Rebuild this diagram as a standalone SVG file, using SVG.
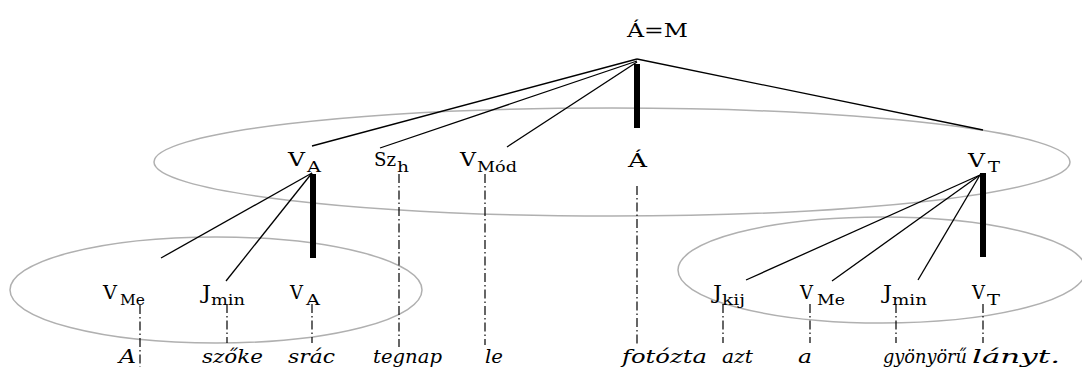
<svg xmlns="http://www.w3.org/2000/svg" width="1082" height="372" viewBox="0 0 1082 372">
<style>
text{font-family:"DejaVu Serif","Liberation Serif",serif;fill:#000}
.m{font-size:19px}
.s{font-size:15px}
.w{font-size:19px;font-style:italic}
.ell{fill:none;stroke:#b0b0b0;stroke-width:1.5}
.ln{stroke:#000;stroke-width:1.3;fill:none}
.bar{stroke:#000;stroke-width:6;fill:none}
.dd{stroke:#000;stroke-width:1.2;stroke-dasharray:9,3,1.5,3;fill:none}
</style>
<rect width="1082" height="372" fill="#fff"/>
<g id="groups">
<ellipse class="ell" cx="612" cy="162" rx="458" ry="54"/>
<ellipse class="ell" cx="216" cy="290" rx="206" ry="53"/>
<ellipse class="ell" cx="882" cy="270" rx="204" ry="53"/>
</g>
<g id="connectors">
<line class="ln" x1="637" y1="59" x2="312" y2="146"/>
<line class="ln" x1="637" y1="61" x2="380" y2="148"/>
<line class="ln" x1="637" y1="62" x2="507" y2="147"/>
<line class="ln" x1="637" y1="59" x2="983" y2="130"/>
<line class="bar" x1="637" y1="64" x2="637" y2="128"/>
<line class="ln" x1="312" y1="173" x2="161" y2="258"/>
<line class="ln" x1="312" y1="173" x2="226" y2="281"/>
<line class="bar" x1="313" y1="174" x2="313" y2="258"/>
<line class="ln" x1="980" y1="175" x2="746" y2="280"/>
<line class="ln" x1="980" y1="175" x2="832" y2="281"/>
<line class="ln" x1="980" y1="175" x2="918" y2="280"/>
<line class="bar" x1="983" y1="173" x2="983" y2="257"/>
<line class="dd" x1="399" y1="174" x2="399" y2="347"/>
<line class="dd" x1="485" y1="174" x2="485" y2="345"/>
<line class="dd" x1="637" y1="186" x2="637" y2="345"/>
<line class="dd" x1="140" y1="305" x2="140" y2="367"/>
<line class="dd" x1="227" y1="304" x2="227" y2="343"/>
<line class="dd" x1="312" y1="304" x2="312" y2="343"/>
<line class="dd" x1="723" y1="304" x2="723" y2="343"/>
<line class="dd" x1="810" y1="304" x2="810" y2="343"/>
<line class="dd" x1="896" y1="304" x2="896" y2="343"/>
<line class="dd" x1="983" y1="304" x2="983" y2="343"/>
</g>
<g id="n-AM"><text class="m" x="627" y="37" textLength="61" lengthAdjust="spacingAndGlyphs">Á=M</text></g>
<g id="n-VA"><text class="m" x="288" y="166" textLength="17" lengthAdjust="spacingAndGlyphs">V</text><text class="s" x="307" y="172" textLength="14" lengthAdjust="spacingAndGlyphs">A</text></g>
<g id="n-Szh"><text class="m" x="374" y="166" textLength="22" lengthAdjust="spacingAndGlyphs">Sz</text><text class="s" x="397" y="172" textLength="12" lengthAdjust="spacingAndGlyphs">h</text></g>
<g id="n-VMod"><text class="m" x="460" y="166" textLength="16" lengthAdjust="spacingAndGlyphs">V</text><text class="s" x="477" y="172" textLength="40" lengthAdjust="spacingAndGlyphs">Mód</text></g>
<g id="n-A"><text class="m" x="628" y="167" textLength="19" lengthAdjust="spacingAndGlyphs">Á</text></g>
<g id="n-VT"><text class="m" x="968" y="167" textLength="17" lengthAdjust="spacingAndGlyphs">V</text><text class="s" x="988" y="172" textLength="12" lengthAdjust="spacingAndGlyphs">T</text></g>
<g id="n-VMe1"><text class="m" x="103" y="299" textLength="14" lengthAdjust="spacingAndGlyphs">V</text><text class="s" x="120" y="305" textLength="25" lengthAdjust="spacingAndGlyphs">Me</text></g>
<g id="n-Jmin1"><text class="m" x="202" y="299" textLength="9" lengthAdjust="spacingAndGlyphs">J</text><text class="s" x="211" y="305" textLength="34" lengthAdjust="spacingAndGlyphs">min</text></g>
<g id="n-VA2"><text class="m" x="290" y="299" textLength="13" lengthAdjust="spacingAndGlyphs">V</text><text class="s" x="306" y="305" textLength="14" lengthAdjust="spacingAndGlyphs">A</text></g>
<g id="n-Jkij"><text class="m" x="713" y="299" textLength="9" lengthAdjust="spacingAndGlyphs">J</text><text class="s" x="722" y="305" textLength="23" lengthAdjust="spacingAndGlyphs">kij</text></g>
<g id="n-VMe2"><text class="m" x="800" y="299" textLength="13" lengthAdjust="spacingAndGlyphs">V</text><text class="s" x="817" y="305" textLength="28" lengthAdjust="spacingAndGlyphs">Me</text></g>
<g id="n-Jmin2"><text class="m" x="883" y="299" textLength="9" lengthAdjust="spacingAndGlyphs">J</text><text class="s" x="892" y="305" textLength="35" lengthAdjust="spacingAndGlyphs">min</text></g>
<g id="n-VT2"><text class="m" x="972" y="299" textLength="13" lengthAdjust="spacingAndGlyphs">V</text><text class="s" x="987" y="305" textLength="13" lengthAdjust="spacingAndGlyphs">T</text></g>
<g id="words">
<text class="w" x="119" y="363" textLength="17" lengthAdjust="spacingAndGlyphs">A</text>
<text class="w" x="202" y="363" textLength="61" lengthAdjust="spacingAndGlyphs">szőke</text>
<text class="w" x="288" y="363" textLength="47" lengthAdjust="spacingAndGlyphs">srác</text>
<text class="w" x="373" y="363" textLength="69" lengthAdjust="spacingAndGlyphs">tegnap</text>
<text class="w" x="485" y="363" textLength="18" lengthAdjust="spacingAndGlyphs">le</text>
<text class="w" x="622" y="363" textLength="85" lengthAdjust="spacingAndGlyphs">fotózta</text>
<text class="w" x="722" y="363" textLength="31" lengthAdjust="spacingAndGlyphs">azt</text>
<text class="w" x="798" y="363" textLength="14" lengthAdjust="spacingAndGlyphs">a</text>
<text class="w" x="883" y="363" textLength="84" lengthAdjust="spacingAndGlyphs">gyönyörű</text>
<text class="w" x="972" y="363" textLength="88" lengthAdjust="spacingAndGlyphs">lányt.</text>
</g>
</svg>
